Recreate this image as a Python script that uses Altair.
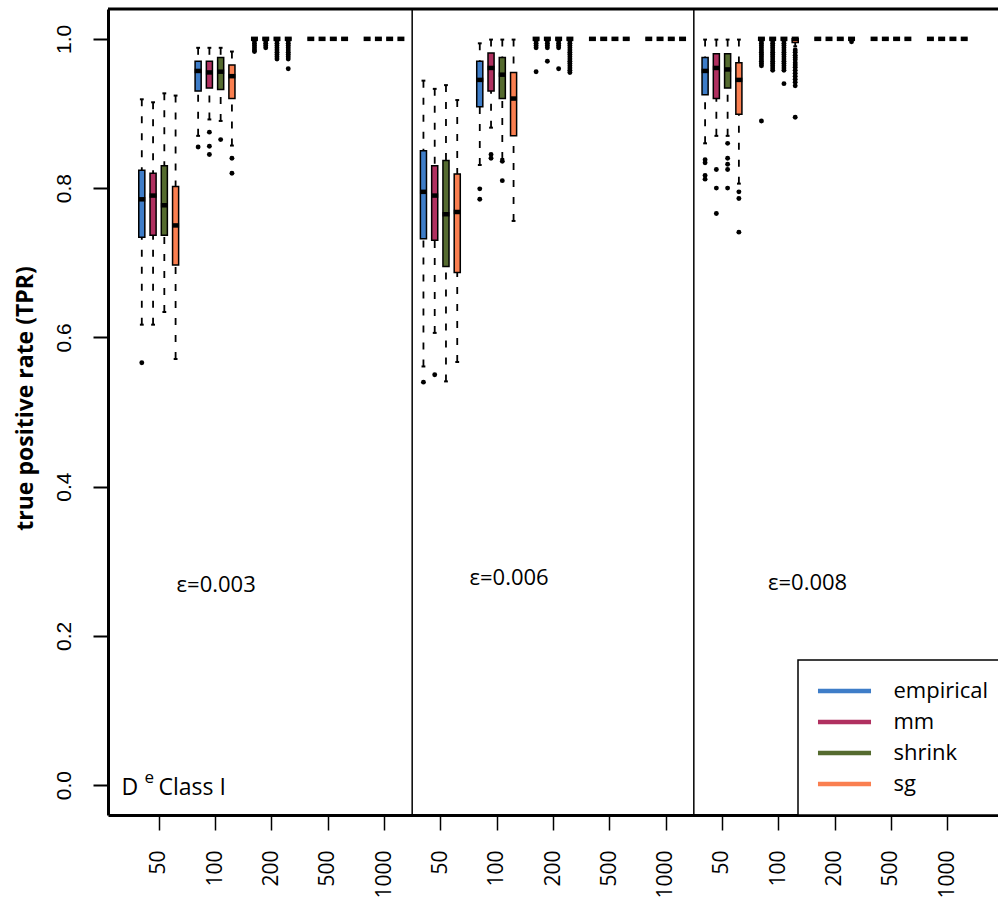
import json

import altair as alt
import pandas as pd

METHODS = ["empirical", "mm", "shrink", "sg"]
COLORS = ["#3E7DC8", "#B03060", "#556B2F", "#FA7F50"]
SIZES = ["50", "100", "200", "500", "1000"]
EPSILONS = ["ε=0.003", "ε=0.006", "ε=0.008"]

ONE = [1.0, 1.0, 1.0, 1.0]

# Box statistics, indexed [epsilon panel][sample size][method]
WHISKER_LO = [
    [[0.617, 0.617, 0.634, 0.571], [0.870, 0.892, 0.890, 0.857], ONE, ONE, ONE],
    [[0.561, 0.606, 0.541, 0.567], [0.831, 0.881, 0.839, 0.756], ONE, ONE, ONE],
    [[0.860, 0.870, 0.870, 0.806], [1.0, 1.0, 1.0, 0.990], ONE, ONE, ONE],
]
Q1 = [
    [[0.734, 0.737, 0.737, 0.697], [0.930, 0.934, 0.932, 0.920], ONE, ONE, ONE],
    [[0.732, 0.730, 0.695, 0.687], [0.909, 0.930, 0.920, 0.870], ONE, ONE, ONE],
    [[0.925, 0.920, 0.934, 0.899], [1.0, 1.0, 1.0, 0.995], ONE, ONE, ONE],
]
MEDIAN = [
    [[0.785, 0.790, 0.777, 0.750], [0.957, 0.955, 0.956, 0.950], ONE, ONE, ONE],
    [[0.795, 0.790, 0.765, 0.768], [0.945, 0.961, 0.952, 0.920], ONE, ONE, ONE],
    [[0.957, 0.961, 0.959, 0.945], ONE, ONE, ONE, ONE],
]
Q3 = [
    [[0.824, 0.820, 0.830, 0.802], [0.970, 0.970, 0.975, 0.965], ONE, ONE, ONE],
    [[0.850, 0.830, 0.837, 0.819], [0.970, 0.981, 0.975, 0.955], ONE, ONE, ONE],
    [[0.975, 0.980, 0.980, 0.968], ONE, ONE, ONE, ONE],
]
WHISKER_HI = [
    [[0.919, 0.915, 0.927, 0.924], [0.988, 0.988, 0.988, 0.983], ONE, ONE, ONE],
    [[0.944, 0.933, 0.938, 0.918], [0.994, 0.999, 0.999, 0.999], ONE, ONE, ONE],
    [[0.999, 0.999, 0.999, 0.999], ONE, ONE, ONE, ONE],
]

# Outlying runs, keyed by (panel, sample size, method)
OUTLIERS = {
    (0, 0, 0): [0.566],
    (0, 1, 0): [0.855],
    (0, 1, 1): [0.875, 0.856, 0.845],
    (0, 1, 2): [0.865],
    (0, 1, 3): [0.840, 0.820],
    (0, 2, 0): [0.997, 0.994, 0.991, 0.988, 0.985, 0.983],
    (0, 2, 1): [0.997, 0.994, 0.991, 0.988],
    (0, 2, 2): [0.997, 0.994, 0.991, 0.988, 0.985, 0.982, 0.979, 0.976, 0.973],
    (0, 2, 3): [0.997, 0.994, 0.991, 0.988, 0.985, 0.982, 0.979, 0.976, 0.973, 0.960],
    (1, 0, 0): [0.540],
    (1, 0, 1): [0.550],
    (1, 1, 0): [0.799, 0.785],
    (1, 1, 1): [0.845, 0.840],
    (1, 1, 2): [0.836, 0.810],
    (1, 2, 0): [0.997, 0.994, 0.991, 0.988, 0.956],
    (1, 2, 1): [0.997, 0.994, 0.991, 0.988, 0.970],
    (1, 2, 2): [0.997, 0.994, 0.991, 0.988, 0.960],
    (1, 2, 3): [0.997, 0.994, 0.991, 0.988, 0.985, 0.982, 0.979, 0.976, 0.973,
                0.970, 0.967, 0.964, 0.961, 0.958, 0.955],
    (2, 0, 0): [0.838, 0.834, 0.817, 0.812],
    (2, 0, 1): [0.825, 0.800, 0.766],
    (2, 0, 2): [0.860, 0.840, 0.832, 0.825, 0.800],
    (2, 0, 3): [0.795, 0.786, 0.741],
    (2, 1, 0): [0.997, 0.994, 0.991, 0.988, 0.985, 0.982, 0.979, 0.976, 0.973,
                0.970, 0.967, 0.964, 0.890],
    (2, 1, 1): [0.997, 0.994, 0.991, 0.988, 0.985, 0.982, 0.979, 0.976, 0.973,
                0.970, 0.967, 0.964, 0.961, 0.958],
    (2, 1, 2): [0.997, 0.994, 0.991, 0.988, 0.985, 0.982, 0.979, 0.976, 0.973,
                0.970, 0.967, 0.964, 0.961, 0.958, 0.940],
    (2, 1, 3): [0.985, 0.982, 0.978, 0.975, 0.972, 0.968, 0.965, 0.962, 0.958,
                0.954, 0.950, 0.946, 0.942, 0.937, 0.895],
    (2, 2, 3): [0.996],
}

# Label anchors in data units (x: box slot, y: rate)
EPS_X = [6.6, 32.6, 59.1]
EPS_Y = [0.259, 0.268, 0.262]
TAG_X = -1.8
TAG_Y = -0.013

N_PANEL, N_SIZE, N_METHOD = 3, 5, 4
GROUP = N_METHOD + 1            # slots per sample-size group (one gap)
PANEL = N_SIZE * GROUP          # slots per epsilon panel

W, H = 890, 806
FONT = "Open Sans"


def slot(p, s, m):
    return p * PANEL + s * GROUP + m


box_rows, out_rows = [], []
for p in range(N_PANEL):
    for s in range(N_SIZE):
        for m in range(N_METHOD):
            box_rows.append(dict(
                pos=slot(p, s, m), method=METHODS[m],
                lo=WHISKER_LO[p][s][m], q1=Q1[p][s][m], med=MEDIAN[p][s][m],
                q3=Q3[p][s][m], hi=WHISKER_HI[p][s][m],
            ))
            for v in OUTLIERS.get((p, s, m), []):
                out_rows.append(dict(pos=slot(p, s, m), value=v))

boxes = pd.DataFrame(box_rows)
outliers = pd.DataFrame(out_rows)
tick_pos = [p * PANEL + s * GROUP + (N_METHOD - 1) / 2
            for p in range(N_PANEL) for s in range(N_SIZE)]
dividers = pd.DataFrame({"pos": [(p + 1) * PANEL - 1 for p in range(N_PANEL - 1)]})
eps = pd.DataFrame({"x": EPS_X, "y": EPS_Y, "label": EPSILONS})
tag = pd.DataFrame({"x": [TAG_X], "y": [TAG_Y]})

xs = alt.Scale(domain=[-3, N_PANEL * PANEL + 1], nice=False, zero=False)
ys = alt.Scale(domain=[-0.04, 1.04], nice=False, zero=False)

x_axis = alt.Axis(
    values=tick_pos,
    labelExpr=f"{json.dumps(SIZES)}[floor((datum.value % {PANEL}) / {GROUP})]",
    title=None, grid=False, tickSize=15, tickWidth=1.5, tickColor="black",
    domainColor="black", domainWidth=3, labelAngle=270, labelAlign="right",
    labelBaseline="middle", labelPadding=20, labelFont=FONT, labelFontSize=21,
    labelColor="black", labelOverlap=False, labelFlush=False, labelBound=False,
)
y_axis = alt.Axis(
    values=[0, 0.2, 0.4, 0.6, 0.8, 1.0], format=".1f",
    title="true positive rate (TPR)", titleFont=FONT, titleFontSize=23,
    titleFontWeight="bold", titleColor="black", titleAngle=270,
    titleAlign="center", titleBaseline="bottom", titleX=-71, titleY=389,
    grid=False, tickSize=15, tickWidth=2, tickColor="black",
    domainColor="black", domainWidth=3, labelAngle=270, labelAlign="center",
    labelBaseline="bottom", labelPadding=19, labelFont="Liberation Sans",
    labelFontSize=21, labelColor="black", labelOverlap=False, labelFlush=False,
)


def X(field):
    return alt.X(field, type="quantitative", scale=xs, axis=x_axis)


def Y(field):
    return alt.Y(field, type="quantitative", scale=ys, axis=y_axis)


legend = alt.Legend(
    orient="none", legendX=690, legendY=651, title=None,
    symbolType="M-2.5,-0.22H2.5V0.22H-2.5Z", symbolSize=450,
    symbolStrokeWidth=0, symbolOffset=15.5, labelOffset=38,
    labelFont=FONT, labelFontSize=22, labelColor="black", labelLimit=300,
    padding=20, rowPadding=9, strokeColor="black", fillColor="white",
)

base = alt.Chart(boxes).transform_calculate(
    xl="datum.pos - 0.27", xr="datum.pos + 0.27",
    ml="datum.pos - 0.31", mr="datum.pos + 0.31",
    sl="datum.pos - 0.17", sr="datum.pos + 0.17",
)

whisk_lo = base.mark_rule(color="black", strokeWidth=1.8, strokeDash=[7, 10]).encode(
    x=X("pos"), y=Y("lo"), y2="q1:Q",
)
whisk_hi = base.mark_rule(color="black", strokeWidth=1.8, strokeDash=[7, 10]).encode(
    x=X("pos"), y=Y("hi"), y2="q3:Q",
)
staple_lo = base.mark_rule(color="black", strokeWidth=2).encode(
    x=X("sl"), x2="sr:Q", y=Y("lo"),
)
staple_hi = base.mark_rule(color="black", strokeWidth=2).encode(
    x=X("sl"), x2="sr:Q", y=Y("hi"),
)
box = base.mark_bar(stroke="black", strokeWidth=1.5, opacity=1).encode(
    x=X("xl"), x2="xr:Q", y=Y("q1"), y2="q3:Q",
    color=alt.Color("method:N", scale=alt.Scale(domain=METHODS, range=COLORS),
                    legend=legend),
)
median = base.mark_rule(color="black", strokeWidth=4.5).encode(
    x=X("ml"), x2="mr:Q", y=Y("med"),
)
points = alt.Chart(outliers).mark_circle(color="black", size=24, opacity=1).encode(
    x=X("pos"), y=Y("value"),
)
divs = alt.Chart(dividers).mark_rule(color="black", strokeWidth=1.5).encode(
    x=X("pos"),
)
top = alt.Chart(dividers.head(1)).mark_rule(color="black", strokeWidth=3).encode(
    x=alt.value(0), x2=alt.value(W), y=alt.value(0),
)
eps_text = alt.Chart(eps).mark_text(
    font=FONT, fontSize=22, color="black", align="center", baseline="alphabetic"
).encode(
    x=X("x"), y=Y("y"), text="label:N",
)
tag_base = alt.Chart(tag).encode(x=X("x"), y=Y("y"))
tag_d = tag_base.mark_text(font=FONT, fontSize=23, color="black", align="left",
                           baseline="alphabetic", text="D")
tag_e = tag_base.mark_text(font=FONT, fontSize=17, color="black", align="left",
                           baseline="alphabetic", text="e", dx=23, dy=-12)
tag_c = tag_base.mark_text(font=FONT, fontSize=23, color="black", align="left",
                           baseline="alphabetic", text="Class I", dx=37)

chart = alt.layer(
    whisk_lo, whisk_hi, staple_lo, staple_hi, box, median, points,
    divs, top, eps_text, tag_d, tag_e, tag_c,
).properties(
    width=W, height=H,
    autosize=alt.AutoSizeParams(type="none"),
    padding={"left": 108, "top": 9, "right": 0, "bottom": 87},
    background="white",
).configure_view(stroke=None).configure_legend(strokeWidth=1.5)

chart.save("out.html", embed_options={"renderer": "svg", "actions": False})
